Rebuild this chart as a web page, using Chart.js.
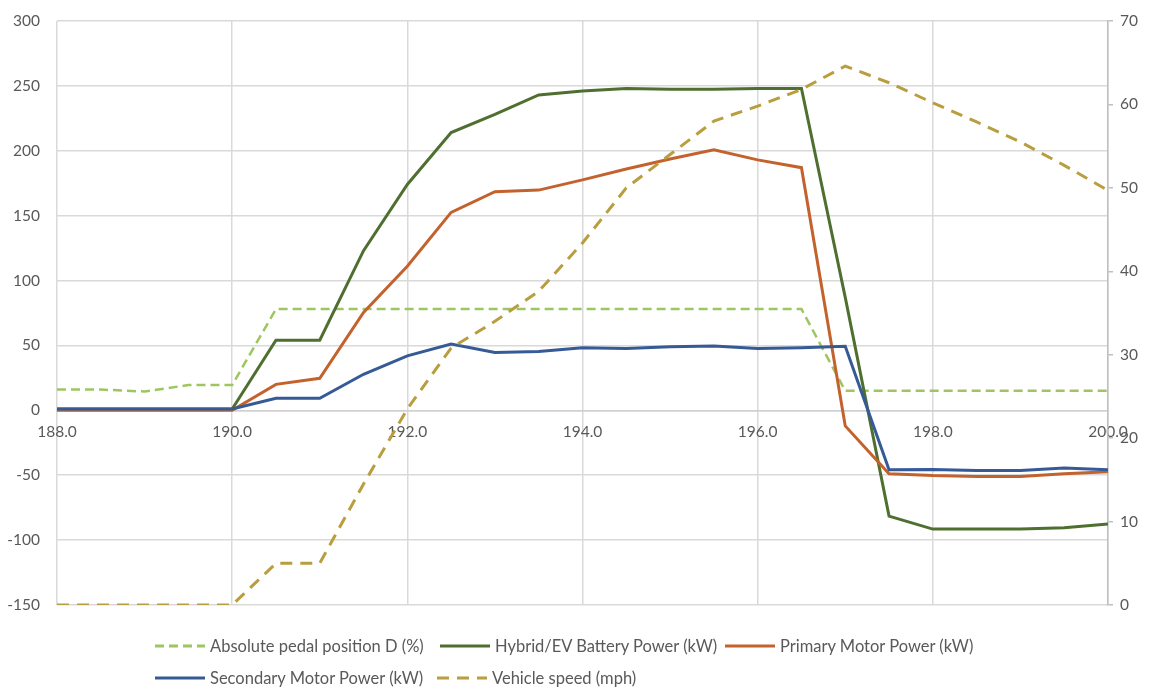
<!DOCTYPE html>
<html>
<head>
<meta charset="utf-8">
<script src="https://cdn.jsdelivr.net/npm/chart.js@4.4.1/dist/chart.umd.min.js"></script>
<style>
  html, body { margin: 0; padding: 0; background: #fff; }
  #wrap { position: relative; width: 1158px; height: 698px; }
  canvas { position: absolute; left: 0; top: 0; }
  .lg { position: absolute; display: flex; align-items: center; font-family: Lato, "Open Sans", sans-serif; font-size: 16.5px; color: #595959; white-space: nowrap; }
  .lg svg { margin-right: 5px; }
</style>
</head>
<body>
<div id="wrap">
  <canvas id="c" width="1158" height="698"></canvas>
  <div id="legend"></div>
</div>
<script>
// ---- data ----
const time = [188, 188.5, 189, 189.5, 190, 190.5, 191, 191.5, 192, 192.5, 193, 193.5, 194, 194.5, 195, 195.5, 196, 196.5, 197, 197.5, 198, 198.5, 199, 199.5, 200];
const pedalPosition = [16, 16, 14.5, 19.5, 19.5, 78, 78, 78, 78, 78, 78, 78, 78, 78, 78, 78, 78, 78, 15, 15, 15, 15, 15, 15, 15];
const batteryPower = [1, 1, 1, 1, 1, 54, 54, 123, 174, 214, 228, 243, 246, 248, 247.5, 247.5, 248, 248, 87, -81.5, -91.5, -91.5, -91.5, -90.5, -87.5];
const primaryMotor = [0, 0, 0, 0, 0, 20, 24.7, 75.5, 111, 152.5, 168.5, 169.7, 177.6, 186, 193.6, 200.7, 193, 187, -12, -48.8, -50.3, -51, -51, -48.8, -47.3];
const secondaryMotor = [1, 1, 1, 1, 1, 9.3, 9.3, 27.8, 42, 51, 44.5, 45.3, 48.3, 47.6, 49, 49.6, 47.6, 48.3, 49.4, -45.8, -45.5, -46.4, -46.4, -44.5, -45.8];
const vehicleSpeed = [0, 0, 0, 0, 0, 5, 5, 14.5, 23.5, 30.8, 34, 37.6, 43.4, 50, 54, 58, 59.8, 61.8, 64.6, 62.6, 60.2, 57.9, 55.5, 52.7, 49.7];
const seriesNames = ["Absolute pedal position D (%)", "Hybrid/EV Battery Power (kW)", "Primary Motor Power (kW)", "Secondary Motor Power (kW)", "Vehicle speed (mph)"];

const pts = arr => time.map((t, i) => ({ x: t, y: arr[i] }));
const COLORS = ['#9DC660', '#4F6F30', '#C4622D', '#365A96', '#B89E3E'];
const DASH = [[9, 5], [], [], [], [12, 8]];

const datasets = [
  { label: seriesNames[0], data: pts(pedalPosition), yAxisID: 'y', borderColor: COLORS[0], borderWidth: 2.5, borderDash: DASH[0], order: 5 },
  { label: seriesNames[1], data: pts(batteryPower), yAxisID: 'y', borderColor: COLORS[1], borderWidth: 3, order: 4 },
  { label: seriesNames[2], data: pts(primaryMotor), yAxisID: 'y', borderColor: COLORS[2], borderWidth: 3, order: 3 },
  { label: seriesNames[3], data: pts(secondaryMotor), yAxisID: 'y', borderColor: COLORS[3], borderWidth: 3, order: 2 },
  { label: seriesNames[4], data: pts(vehicleSpeed), yAxisID: 'y1', borderColor: COLORS[4], borderWidth: 3, borderDash: DASH[4], order: 1 }
];
datasets.forEach(d => { d.pointRadius = 0; d.tension = 0; d.fill = false; d.backgroundColor = d.borderColor; });

const GRID = '#d9d9d9';
const TICKFONT = { family: 'Lato, "Open Sans", sans-serif', size: 15.5 };

new Chart(document.getElementById('c'), {
  type: 'line',
  data: { datasets },
  options: {
    responsive: false,
    animation: false,
    layout: { padding: { top: 21, bottom: 93, left: 0, right: 0 } },
    plugins: { legend: { display: false }, tooltip: { enabled: false } },
    scales: {
      x: {
        type: 'linear',
        position: { y: 0 },
        min: 188, max: 200,
        ticks: { stepSize: 2, color: '#595959', font: TICKFONT, padding: 12, callback: v => Number(v).toFixed(1), maxRotation: 0, autoSkip: false },
        grid: { color: GRID, lineWidth: 1.5, drawTicks: false },
        border: { display: true, color: '#d0d0d0', width: 1.5 }
      },
      y: {
        position: 'left',
        min: -150, max: 300,
        ticks: { stepSize: 50, color: '#595959', font: TICKFONT, padding: 17 },
        grid: { color: GRID, lineWidth: 1.5, drawTicks: false },
        border: { display: false },
        afterFit: s => { s.width = 57; s.paddingTop = 0; s.paddingBottom = 0; }
      },
      y1: {
        position: 'right',
        min: 0, max: 70,
        ticks: { stepSize: 10, color: '#595959', font: TICKFONT, padding: 7 },
        grid: { drawOnChartArea: false, drawTicks: true, tickLength: 5, color: '#bfbfbf', lineWidth: 1.5 },
        border: { display: true, color: '#bfbfbf', width: 1.5 },
        afterFit: s => { s.width = 50; s.paddingTop = 0; s.paddingBottom = 0; }
      }
    }
  }
});

// ---- legend (HTML, laid out like the reference) ----
const legendPos = [[155, 646], [440, 646], [725, 646], [155, 678], [437, 678]];
const lg = document.getElementById('legend');
seriesNames.forEach((name, i) => {
  const div = document.createElement('div');
  div.className = 'lg';
  div.style.left = legendPos[i][0] + 'px';
  div.style.top = (legendPos[i][1] - 10) + 'px';
  const dash = DASH[i].length ? ` stroke-dasharray="${DASH[i].join(' ')}"` : '';
  div.innerHTML = `<svg width="50" height="20"><line x1="0" y1="10" x2="50" y2="10" stroke="${COLORS[i]}" stroke-width="3"${dash}/></svg><span>${name}</span>`;
  lg.appendChild(div);
});
</script>
</body>
</html>
